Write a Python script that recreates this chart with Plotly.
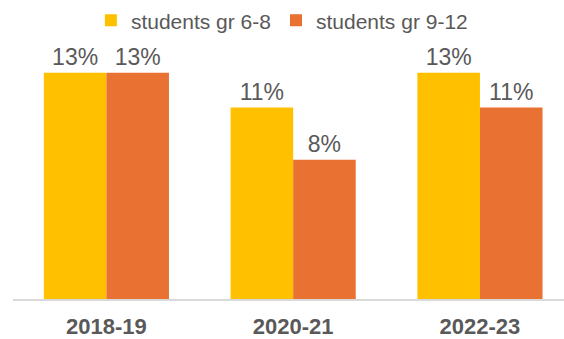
import plotly.graph_objects as go

categories = ["2018-19", "2020-21", "2022-23"]
series_names = ["students gr 6-8", "students gr 9-12"]
gr_6_8 = [13, 11, 13]
gr_9_12 = [13, 8, 11]
colors = ["#FFC000", "#E97132"]

fig = go.Figure()
for name, vals, col in zip(series_names, [gr_6_8, gr_9_12], colors):
    fig.add_trace(go.Bar(
        x=categories, y=vals, name=name,
        marker=dict(color=col, line=dict(width=0)),
        text=[f"{v}%" for v in vals], textposition="outside",
        textfont=dict(family="Liberation Sans, Arial, sans-serif", size=23, color="#595959"),
        cliponaxis=False,
    ))

fig.update_layout(
    width=564, height=339,
    margin=dict(l=13, r=0, t=44, b=35),
    paper_bgcolor="white", plot_bgcolor="white",
    barmode="group", bargap=0.33, bargroupgap=0,
    font=dict(family="Liberation Sans, Arial, sans-serif", color="#595959"),
    legend=dict(orientation="h", x=0.488, xanchor="center", y=1.1, yanchor="middle",
                font=dict(size=21, color="#595959"), itemwidth=30,
                bgcolor="rgba(0,0,0,0)"),
    xaxis=dict(type="category", range=[-0.5, 2.45], showline=True, linecolor="#D9D9D9",
               linewidth=2, ticks="", ticklabelstandoff=7,
               tickfont=dict(size=22, color="#595959", weight="bold"), showgrid=False),
    yaxis=dict(range=[0, 14.54], visible=False, showgrid=False, zeroline=False),
)

fig.write_html("out.html")
